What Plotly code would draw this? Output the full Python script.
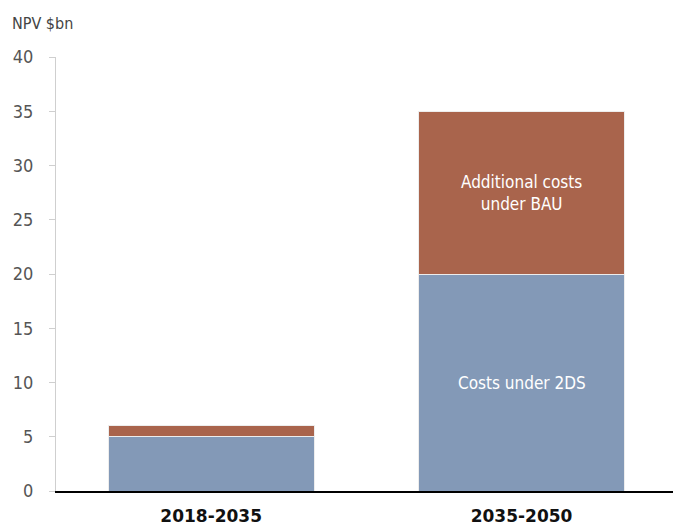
import plotly.graph_objects as go

periods = ["2018-2035", "2035-2050"]
costs_2ds = [5, 20]
additional_bau = [1, 15]
y_ticks = [0, 5, 10, 15, 20, 25, 30, 35, 40]

blue = "#8399B7"
brown = "#A9644C"
font_fam = "DejaVu Sans Condensed, Roboto, sans-serif"

fig = go.Figure()
fig.add_trace(go.Bar(x=periods, y=costs_2ds, name="Costs under 2DS",
                     marker=dict(color=blue, line=dict(color="#EDEDED", width=1))))
fig.add_trace(go.Bar(x=periods, y=additional_bau, name="Additional costs under BAU",
                     marker=dict(color=brown, line=dict(color="#EDEDED", width=1))))

fig.add_annotation(x=periods[1], y=costs_2ds[1] / 2, text="Costs under 2DS",
                   showarrow=False, font=dict(color="white", size=17, family=font_fam))
fig.add_annotation(x=periods[1], y=costs_2ds[1] + additional_bau[1] / 2,
                   text="Additional costs<br>under BAU", showarrow=False,
                   font=dict(color="white", size=17, family=font_fam))
fig.add_annotation(xref="paper", yref="paper", x=-0.0745, y=1, yshift=34,
                   xanchor="left", yanchor="middle", text="NPV $bn", showarrow=False,
                   font=dict(color="#444444", size=16, family=font_fam))

fig.update_layout(
    barmode="stack",
    bargap=0.337,
    width=673, height=529,
    margin=dict(l=56, r=0, t=57, b=38),
    plot_bgcolor="white", paper_bgcolor="white",
    showlegend=False,
    xaxis=dict(range=[-0.5, 1.488], showline=True, linecolor="black", linewidth=1.5,
               ticks="",
               tickfont=dict(family="DejaVu Sans, sans-serif", size=17, color="#111111",
                             weight="bold"),
               ticklabelstandoff=9, automargin=False),
    yaxis=dict(range=[0, 40], tickvals=y_ticks, showgrid=False, zeroline=False,
               showline=True, linecolor="#CFCFCF", linewidth=1, ticks="outside",
               ticklen=6, tickcolor="#CFCFCF",
               tickfont=dict(family=font_fam, size=18, color="#555555"),
               ticklabelstandoff=12, automargin=False),
)

fig.write_html("out.html", config={"displayModeBar": False},
               post_script="document.body.style.margin='0';document.body.style.padding='0';")
